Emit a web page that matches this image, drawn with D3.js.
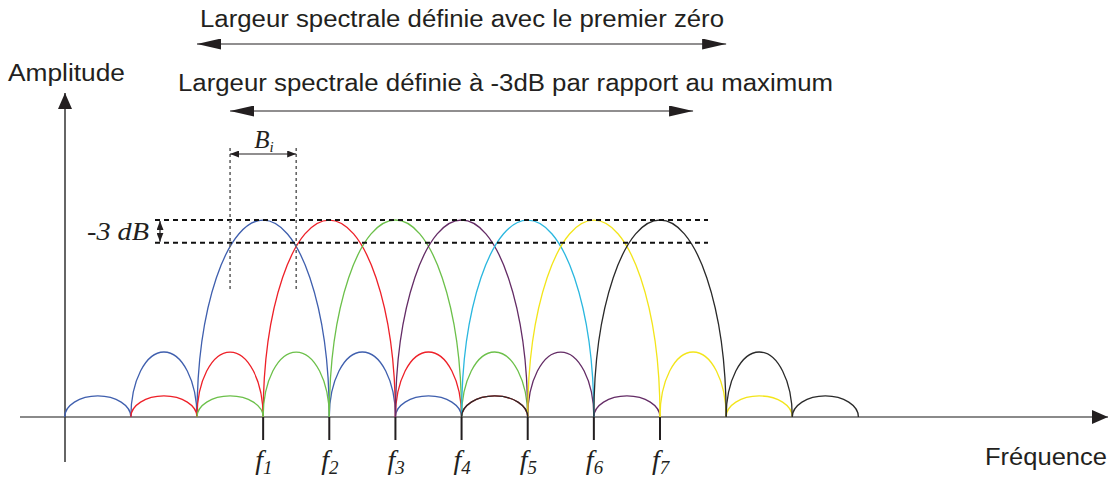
<!DOCTYPE html>
<html>
<head>
<meta charset="utf-8">
<script src="https://cdn.jsdelivr.net/npm/d3@7"></script>
<style>
  body { margin: 0; background: #fff; }
  svg { display: block; }
</style>
</head>
<body>
<svg width="1110" height="480"></svg>
<script>
// carriers and their colours
const carriers = ["1", "2", "3", "4", "5", "6", "7"];
const carrierPos = [1, 2, 3, 4, 5, 6, 7];
const colors = ["#3f5fae", "#ee2028", "#6cc04a", "#642c66", "#2ab7df", "#f3e51a", "#2a2a2a"];

// relative amplitude of main lobe, first and second side lobes
const lobeLevels = [1, 0.33, 0.107];
const minus3dB = 0.885;

// side lobes drawn in the sketch: [carrier index, side (-1 left / +1 right), order]
const sideLobes = [
  [0, -1, 1], [0, -1, 2], [0, 1, 1], [0, 1, 2],
  [1, -1, 1], [1, -1, 2], [1, 1, 1], [1, 1, 2],
  [2, -1, 1], [2, -1, 2], [2, 1, 1],
  [3, 1, 1], [3, 1, 2],
  [5, 1, 1], [5, 1, 2],
  [6, -1, 2], [6, 1, 1], [6, 1, 2]
];

const svg = d3.select("svg");
const sans = "Liberation Sans, Arial, sans-serif";
const serif = "Liberation Serif, Times New Roman, serif";

const x = d3.scaleLinear().domain([0, 7]).range([197, 660]);
const y = d3.scaleLinear().domain([0, 1]).range([417, 220]);

// arrow markers
const defs = svg.append("defs");
function marker(id, len, wid) {
  defs.append("marker")
    .attr("id", id)
    .attr("viewBox", `0 0 ${len} ${wid}`)
    .attr("refX", len)
    .attr("refY", wid / 2)
    .attr("markerUnits", "userSpaceOnUse")
    .attr("markerWidth", len)
    .attr("markerHeight", wid)
    .attr("orient", "auto-start-reverse")
    .append("path")
    .attr("d", `M0,0 L${len},${wid / 2} L0,${wid} Z`)
    .attr("fill", "#231f20");
}
marker("big", 24, 11);
marker("axis", 16, 14);
marker("small", 9, 7);

// axes
svg.append("line")
  .attr("x1", 20).attr("x2", 1108)
  .attr("y1", y(0)).attr("y2", y(0))
  .attr("stroke", "#8a8a8a").attr("stroke-width", 2)
  .attr("marker-end", "url(#axis)");
svg.append("line")
  .attr("x1", 65).attr("x2", 65)
  .attr("y1", 462).attr("y2", 93)
  .attr("stroke", "#333").attr("stroke-width", 1.5)
  .attr("marker-end", "url(#axis)");

// lobe as a half ellipse between two zeros
function arch(a, b, level) {
  const x0 = x(a), x1 = x(b), y0 = y(0);
  const rx = (x1 - x0) / 2, ry = y0 - y(level);
  return `M${x0},${y0} A${rx},${ry} 0 0 1 ${x1},${y0}`;
}

const lobes = [];
carriers.forEach((c, i) => {
  const f = carrierPos[i];
  lobes.push({ i, a: f - 1, b: f + 1, level: lobeLevels[0] });
  sideLobes.filter(s => s[0] === i).forEach(([, side, order]) => {
    const a = side < 0 ? f - 1 - order : f + order;
    lobes.push({ i, a, b: a + 1, level: lobeLevels[order] });
  });
});

svg.append("g").selectAll("path")
  .data(lobes)
  .join("path")
  .attr("d", d => arch(d.a, d.b, d.level))
  .attr("fill", "none")
  .attr("stroke", d => colors[d.i])
  .attr("stroke-width", 1.3);

// ticks and labels
const ticks = svg.append("g").selectAll("g")
  .data(carriers)
  .join("g")
  .attr("transform", (d, i) => `translate(${x(carrierPos[i])},0)`);
ticks.append("line")
  .attr("y1", y(0)).attr("y2", 440)
  .attr("stroke", "#231f20").attr("stroke-width", 2);
const tl = ticks.append("text")
  .attr("x", -8).attr("y", 469)
  .attr("font-family", serif)
  .attr("font-style", "italic")
  .attr("font-size", 28)
  .attr("fill", "#231f20");
tl.append("tspan").text("f");
tl.append("tspan").attr("dy", 5).attr("font-size", 19).text(d => d);

// -3 dB dashed lines
[1, minus3dB].forEach(v => {
  svg.append("line")
    .attr("x1", 155).attr("x2", 708)
    .attr("y1", y(v)).attr("y2", y(v))
    .attr("stroke", "#111").attr("stroke-width", 2)
    .attr("stroke-dasharray", "5,4");
});
svg.append("line")
  .attr("x1", 160).attr("x2", 160)
  .attr("y1", y(1) + 1).attr("y2", y(minus3dB) - 1)
  .attr("stroke", "#231f20").attr("stroke-width", 1.2)
  .attr("marker-start", "url(#small)")
  .attr("marker-end", "url(#small)");
svg.append("text")
  .attr("x", 87).attr("y", 240)
  .attr("font-family", serif).attr("font-style", "italic")
  .attr("font-size", 25).attr("fill", "#231f20")
  .attr("textLength", 62)
  .attr("lengthAdjust", "spacingAndGlyphs")
  .text("-3 dB");

// B_i : width at -3 dB of the first carrier
const bLeft = x(carrierPos[0] - 0.5), bRight = x(carrierPos[0] + 0.5);
[bLeft, bRight].forEach(v => {
  svg.append("line")
    .attr("x1", v).attr("x2", v)
    .attr("y1", 148).attr("y2", 290)
    .attr("stroke", "#666").attr("stroke-width", 1.6)
    .attr("stroke-dasharray", "3,3");
});
svg.append("line")
  .attr("x1", bLeft).attr("x2", bRight)
  .attr("y1", 154).attr("y2", 154)
  .attr("stroke", "#231f20").attr("stroke-width", 1.2)
  .attr("marker-start", "url(#small)")
  .attr("marker-end", "url(#small)");
const bt = svg.append("text")
  .attr("x", x(carrierPos[0]) - 9).attr("y", 148)
  .attr("font-family", serif).attr("font-style", "italic")
  .attr("font-size", 25).attr("fill", "#231f20");
bt.append("tspan").text("B");
bt.append("tspan").attr("dy", 4).attr("font-size", 15).text("i");

// spectral width arrows
svg.append("line")
  .attr("x1", x(0)).attr("x2", x(8))
  .attr("y1", 44).attr("y2", 44)
  .attr("stroke", "#231f20").attr("stroke-width", 1.2)
  .attr("marker-start", "url(#big)")
  .attr("marker-end", "url(#big)");
svg.append("line")
  .attr("x1", bLeft).attr("x2", x(carrierPos[6] + 0.5))
  .attr("y1", 111).attr("y2", 111)
  .attr("stroke", "#231f20").attr("stroke-width", 1.2)
  .attr("marker-start", "url(#big)")
  .attr("marker-end", "url(#big)");

// texts
function label(txt, x0, yb, len) {
  svg.append("text")
    .attr("x", x0).attr("y", yb)
    .attr("font-family", sans).attr("font-size", 23)
    .attr("fill", "#231f20")
    .attr("textLength", len)
    .attr("lengthAdjust", "spacingAndGlyphs")
    .text(txt);
}
label("Largeur spectrale définie avec le premier zéro", 200, 27, 524);
label("Largeur spectrale définie à -3dB par rapport au maximum", 178, 91, 655);
label("Amplitude", 8, 81, 117);
label("Fréquence", 985, 465, 122);
</script>
</body>
</html>
